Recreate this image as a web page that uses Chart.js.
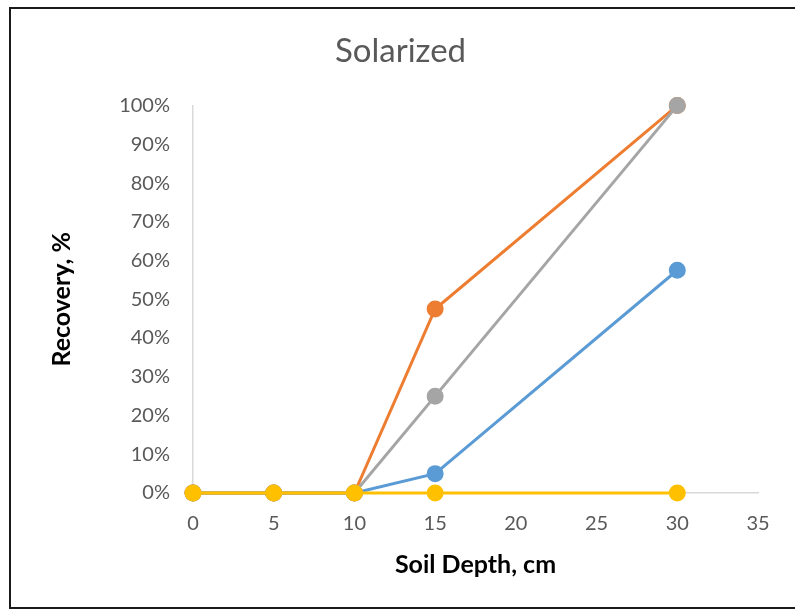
<!DOCTYPE html>
<html>
<head>
<meta charset="utf-8">
<script src="https://cdn.jsdelivr.net/npm/chart.js@4"></script>
<style>
  html, body { margin: 0; padding: 0; background: #fff; }
  #wrap { position: relative; width: 795px; height: 613px; overflow: hidden; }
  #frame { position: absolute; left: 9px; top: 7px; width: 800px; height: 602px; border: 2px solid #1a1a1a; box-sizing: border-box; }
  canvas { position: absolute; left: 0; top: 0; }
</style>
</head>
<body>
<div id="wrap">
  <div id="frame"></div>
  <canvas id="chart" width="795" height="613"></canvas>
</div>
<script>
// Solarized — recovery vs soil depth

const depths = [0, 5, 10, 15, 30];
const series1 = [0, 0, 0, 5, 57.5];    // blue
const series2 = [0, 0, 0, 47.5, 100];  // orange
const series3 = [0, 0, 0, 25, 100];    // gray
const series4 = [0, 0, 0, 0, 0];       // yellow
const seriesNames = ['Series1', 'Series2', 'Series3', 'Series4'];
const seriesColors = ['#5B9BD5', '#ED7D31', '#A5A5A5', '#FFC000'];

const font = "Lato, 'Open Sans', sans-serif";
const toPoints = vals => vals.map((v, i) => ({ x: depths[i], y: v }));

const datasets = [series1, series2, series3, series4].map((vals, i) => ({
  label: seriesNames[i],
  data: toPoints(vals),
  borderColor: seriesColors[i],
  backgroundColor: seriesColors[i],
  pointBackgroundColor: seriesColors[i],
  pointBorderColor: seriesColors[i],
  borderWidth: 3,
  pointRadius: 7,
  showLine: true,
  tension: 0,
  clip: false,
  order: 4 - i, // later series drawn on top
}));

new Chart(document.getElementById('chart'), {
  type: 'scatter',
  data: { datasets },
  options: {
    responsive: false,
    animation: false,
    layout: { padding: { left: 43, right: 37, top: 0, bottom: 29 } },
    plugins: {
      legend: { display: false },
      tooltip: { enabled: false },
      title: {
        display: true,
        text: 'Solarized',
        color: '#595959',
        font: { family: font, size: 33, weight: 'normal' },
        padding: { top: 32, bottom: 34 }
      }
    },
    scales: {
      x: {
        type: 'linear',
        min: 0, max: 35,
        grid: { display: false, drawTicks: false },
        border: { display: true, color: '#d9d9d9', width: 1.5 },
        ticks: { stepSize: 5, color: '#595959', padding: 19, font: { family: font, size: 20 } },
        title: { display: true, text: 'Soil Depth, cm', color: '#000', font: { family: font, size: 25, weight: 'bold' } },
        afterFit: s => { s.height = 91; }
      },
      y: {
        min: 0, max: 100,
        grid: { display: false, drawTicks: false },
        border: { display: true, color: '#d9d9d9', width: 1.5 },
        ticks: { stepSize: 10, color: '#595959', padding: 23, font: { family: font, size: 20 }, callback: v => v + '%' },
        title: { display: true, text: 'Recovery, %', color: '#000', font: { family: font, size: 25, weight: 'bold' } },
        afterFit: s => { s.width = 150; }
      }
    }
  }
});
</script>
</body>
</html>
